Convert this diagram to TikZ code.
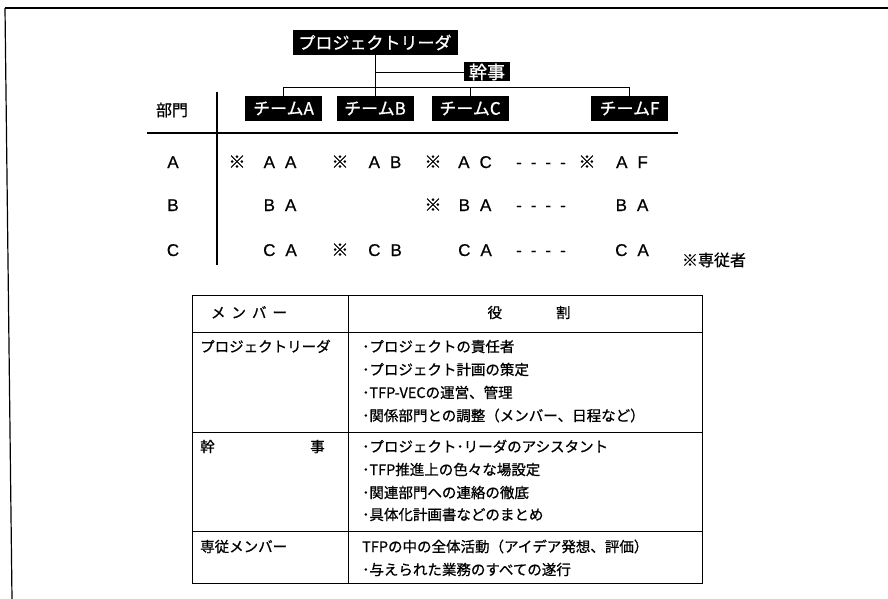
\documentclass[tikz,border=0pt]{standalone}
\usepackage{fontspec}
\setmainfont{Liberation Sans}[FakeBold=0.6]
\newfontfamily\jp{Noto Sans CJK JP}[FakeBold=0.8]
\newcommand{\pr}[2]{#1\hspace{10pt}#2}
\newcommand{\dsh}{-\hspace{9pt}-\hspace{9pt}-\hspace{9pt}-}
\begin{document}
\begin{tikzpicture}[x=1pt,y=-1pt,
  blackbox/.style={fill=black,text=white,font=\jp\fontsize{17}{17}\selectfont,inner sep=0pt,minimum height=25pt},
  lat/.style={font=\fontsize{17}{17}\selectfont,inner sep=0pt,anchor=base},
  jpl/.style={font=\jp\fontsize{17}{17}\selectfont,inner sep=0pt,anchor=base},
  cell/.style={font=\jp\fontsize{14.5}{14.5}\selectfont,inner sep=0pt,anchor=base west},
  conn/.style={line width=0.9pt},
  rulel/.style={line width=1.7pt},
  frame/.style={line width=1.2pt}]
\useasboundingbox (0,0) rectangle (888,599);
% outer frame
\draw[frame] (5,8) -- (888,8);
\draw[frame] (5,8) -- (12,599);
% org chart
\node[blackbox,minimum width=165pt] (leader) at (375,42.5) {プロジェクトリーダ};
\node[blackbox,minimum width=46pt,minimum height=19pt,font=\jp\fontsize{18}{18}\selectfont] (kanji) at (487,72) {幹事};
\node[blackbox,minimum width=77pt] (tA) at (283.5,108.5) {チームA};
\node[blackbox,minimum width=77pt] (tB) at (375,108.5) {チームB};
\node[blackbox,minimum width=77pt] (tC) at (470,108.5) {チームC};
\node[blackbox,minimum width=77pt] (tF) at (629.5,108.5) {チームF};
\coordinate (bar) at (0,87);
\draw[conn] (leader.south) -- (tB.north);
\draw[conn] (leader.south |- kanji.west) -- (kanji.west);
\draw[conn] (tA.north) -- (tA.north |- bar) -| (tF.north);
\draw[conn] (tC.north) -- (tC.north |- bar);
% matrix
\node[jpl,font=\jp\fontsize{16}{16}\selectfont] (bumon) at (172,116) {部門};
\coordinate (hl) at (147,133);
\coordinate (hr) at (678,133);
\coordinate (vt) at (217,92);
\coordinate (vb) at (217,265);
\draw[rulel] (hl) -- (hr);
\draw[rulel] (vt) -- (vb);
\node[lat] (rA) at (173,168) {A};
\node[lat] (rB) at (173,211) {B};
\node[lat] (rC) at (173,256) {C};
% row A
\node[jpl] (a1) at (237,168) {※};
\node[lat] (a2) at (280,168) {\pr AA};
\node[jpl] (a3) at (340,168) {※};
\node[lat] (a4) at (385,168) {\pr AB};
\node[jpl] (a5) at (433,168) {※};
\node[lat] (a6) at (475,168) {\pr AC};
\node[lat] (a7) at (541,168) {\dsh};
\node[jpl] (a8) at (587,168) {※};
\node[lat] (a9) at (632,168) {\pr AF};
% row B
\node[lat] (b2) at (280,211) {\pr BA};
\node[jpl] (b5) at (433,211) {※};
\node[lat] (b6) at (475,211) {\pr BA};
\node[lat] (b7) at (541,211) {\dsh};
\node[lat] (b9) at (632,211) {\pr BA};
% row C
\node[lat] (c2) at (280,256) {\pr CA};
\node[jpl] (c3) at (340,256) {※};
\node[lat] (c4) at (385,256) {\pr CB};
\node[lat] (c6) at (475,256) {\pr CA};
\node[lat] (c7) at (541,256) {\dsh};
\node[lat] (c9) at (632,256) {\pr CA};
\node[jpl,font=\jp\fontsize{16}{16}\selectfont] (note) at (714,266) {※専従者};
% table
\draw[conn] (192,295) rectangle (702,583);
\draw[conn] (348,295) -- (348,583);
\draw[conn] (192,332) -- (702,332);
\draw[conn] (192,432) -- (702,432);
\draw[conn] (192,531) -- (702,531);
\node[cell,anchor=base] (h1) at (249,318) {メ\hspace{6pt}ン\hspace{6pt}バ\hspace{6pt}ー};
\node[cell,anchor=base] (h2) at (529,318) {役\hspace{54pt}割};
\node[cell] (m1) at (200,352) {プロジェクトリーダ};
\node[cell] (r11) at (362,352) {･プロジェクトの責任者};
\node[cell] (r12) at (362,375) {･プロジェクト計画の策定};
\node[cell] (r13) at (362,398) {･TFP-VECの運営、管理};
\node[cell] (r14) at (362,421) {･関係部門との調整（メンバー、日程など）};
\node[cell] (m2a) at (200,452) {幹};
\node[cell,anchor=base east] (m2b) at (325,452) {事};
\node[cell] (r21) at (362,452) {･プロジェクト･リーダのアシスタント};
\node[cell] (r22) at (362,475) {･TFP推進上の色々な場設定};
\node[cell] (r23) at (362,498) {･関連部門への連絡の徹底};
\node[cell] (r24) at (362,520) {･具体化計画書などのまとめ};
\node[cell] (m3) at (200,552) {専従メンバー};
\node[cell] (r31) at (362,552) {TFPの中の全体活動（アイデア発想、評価）};
\node[cell] (r32) at (362,575) {･与えられた業務のすべての遂行};
\end{tikzpicture}
\end{document}
